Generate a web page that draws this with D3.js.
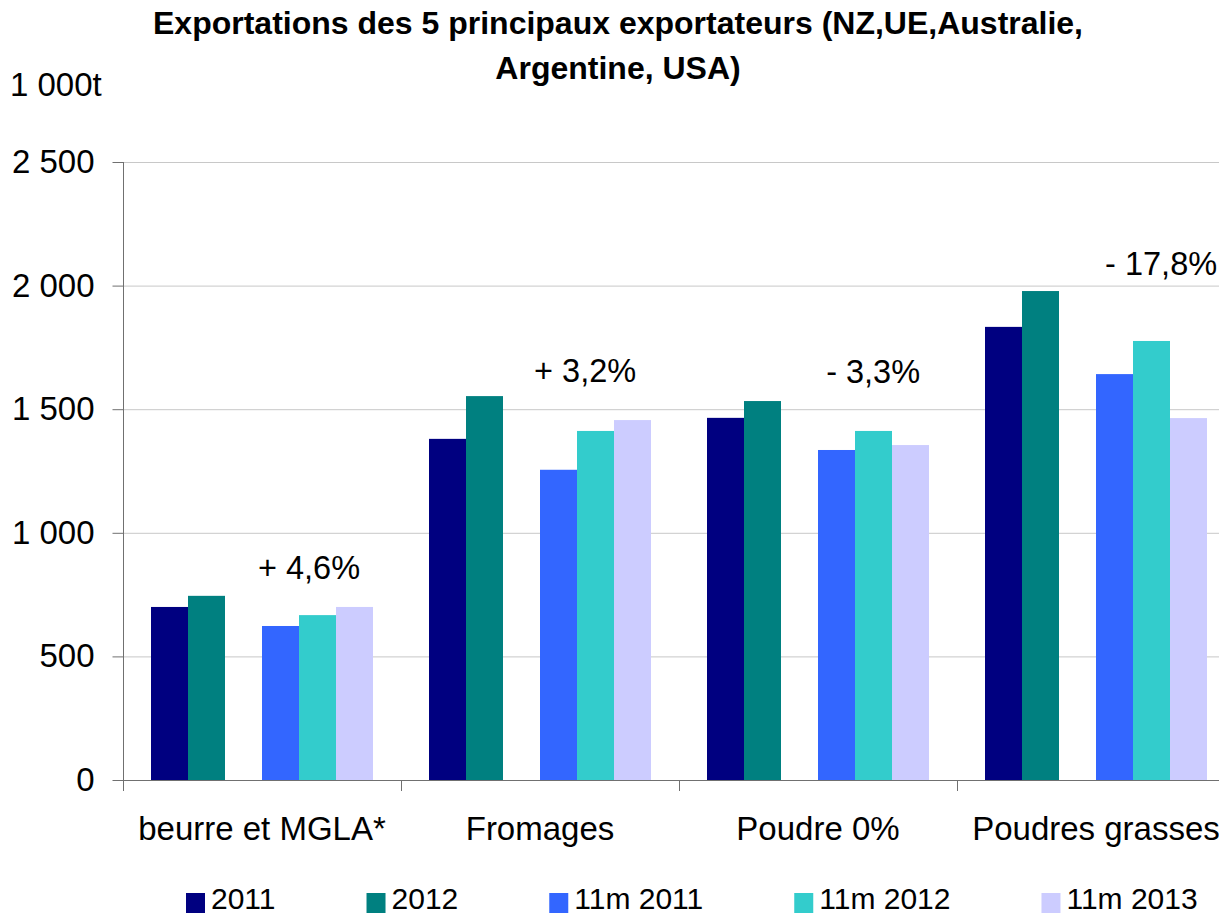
<!DOCTYPE html>
<html>
<head>
<meta charset="utf-8">
<script src="https://cdn.jsdelivr.net/npm/d3@7"></script>
<style>
  body { margin: 0; background: #fff; }
  svg { display: block; font-family: "Liberation Sans", Arial, sans-serif; }
</style>
</head>
<body>
<div id="chart"></div>
<script>
// categories and series (1 000 t)
var categories = ["beurre et MGLA*", "Fromages", "Poudre 0%", "Poudres grasses"];
var seriesNames = ["2011", "2012", "11m 2011", "11m 2012", "11m 2013"];
var seriesColors = ["#000080", "#008080", "#3366ff", "#33cccc", "#ccccff"];
var v2011 = [700, 1380, 1465, 1833];
var v2012 = [745, 1553, 1533, 1978];
var v11m2011 = [623, 1255, 1335, 1642];
var v11m2012 = [667, 1412, 1412, 1776];
var v11m2013 = [700, 1456, 1355, 1464];
var changeLabels = ["+ 4,6%", "+ 3,2%", "- 3,3%", "- 17,8%"];
// where the text boxes sit: value level and bar slot
var changeLabelAt = [815, 1610, 1605, 2043];
var changeLabelSlot = [4.27, 4.22, 4.49, 4.76];
var yTicks = [0, 500, 1000, 1500, 2000, 2500];

var allSeries = [v2011, v2012, v11m2011, v11m2012, v11m2013];
// slot of each series inside a category (slot 2 stays empty)
var seriesSlot = [0, 1, 3, 4, 5];

var width = 1219, height = 916;
var margin = { left: 123, top: 162, bottom: 136 };
var catWidth = 278;

var svg = d3.select("#chart").append("svg")
  .attr("width", width)
  .attr("height", height);

var x = d3.scaleBand()
  .domain(categories)
  .range([margin.left, margin.left + catWidth * categories.length]);

var xInner = d3.scaleBand()
  .domain(d3.range(6))
  .range([28, catWidth - 28]);

// continuous slot position, for the free text boxes
var xSlot = d3.scaleLinear()
  .domain([0, 6])
  .range([28, catWidth - 28]);

var y = d3.scaleLinear()
  .domain([0, 2500])
  .range([height - margin.bottom, margin.top]);

var fmt = function (d) {
  return d3.format(",")(d).replace(",", " ");
};

// gridlines
svg.append("g")
  .selectAll("line")
  .data(yTicks.slice(1))
  .enter().append("line")
  .attr("x1", margin.left)
  .attr("x2", width)
  .attr("y1", function (d) { return y(d) + 0.5; })
  .attr("y2", function (d) { return y(d) + 0.5; })
  .attr("stroke", "#c8c8c8")
  .attr("stroke-width", 1);

// bars
allSeries.forEach(function (vals, s) {
  svg.append("g")
    .selectAll("rect")
    .data(vals)
    .enter().append("rect")
    .attr("x", function (d, i) { return x(categories[i]) + xInner(seriesSlot[s]); })
    .attr("width", xInner.bandwidth())
    .attr("y", function (d) { return y(d); })
    .attr("height", function (d) { return y(0) - y(d); })
    .attr("fill", seriesColors[s]);
});

// y axis
var yAxis = svg.append("g")
  .attr("transform", "translate(" + (margin.left + 0.5) + ",0)")
  .call(d3.axisLeft(y).tickValues(yTicks).tickSize(11).tickPadding(18).tickFormat(fmt));
yAxis.select(".domain").remove();
yAxis.selectAll(".tick line").attr("stroke", "#707070");
yAxis.selectAll("text")
  .attr("font-size", 33)
  .attr("fill", "#000")
  .attr("font-family", "'Liberation Sans', Arial, sans-serif");
yAxis.append("line")
  .attr("y1", y(2500))
  .attr("y2", y(0) + 11)
  .attr("stroke", "#707070");

// x baseline and category ticks
svg.append("line")
  .attr("x1", margin.left)
  .attr("x2", width)
  .attr("y1", y(0) + 0.5)
  .attr("y2", y(0) + 0.5)
  .attr("stroke", "#707070");

svg.append("g")
  .selectAll("line")
  .data(categories.slice(1))
  .enter().append("line")
  .attr("x1", function (d) { return x(d) + 0.5; })
  .attr("x2", function (d) { return x(d) + 0.5; })
  .attr("y1", y(0))
  .attr("y2", y(0) + 11)
  .attr("stroke", "#707070");

svg.append("g")
  .selectAll("text")
  .data(categories)
  .enter().append("text")
  .attr("x", function (d) { return x(d) + x.bandwidth() / 2; })
  .attr("y", 840)
  .attr("text-anchor", "middle")
  .attr("font-size", 33)
  .text(function (d) { return d; });

// change annotations
svg.append("g")
  .selectAll("text")
  .data(changeLabels)
  .enter().append("text")
  .attr("x", function (d, i) { return x(categories[i]) + xSlot(changeLabelSlot[i]); })
  .attr("y", function (d, i) { return y(changeLabelAt[i]); })
  .attr("text-anchor", "middle")
  .attr("font-size", 32.5)
  .text(function (d) { return d; });

// title
var title = svg.append("text")
  .attr("text-anchor", "middle")
  .attr("font-size", 32)
  .attr("font-weight", "bold");
title.append("tspan").attr("x", 618).attr("y", 34)
  .text("Exportations des 5 principaux exportateurs (NZ,UE,Australie,");
title.append("tspan").attr("x", 618).attr("y", 79)
  .text("Argentine, USA)");

svg.append("text")
  .attr("x", 10)
  .attr("y", 96)
  .attr("font-size", 33)
  .text("1 000t");

// legend
var legend = svg.append("g");
var lx = 186;
seriesNames.forEach(function (name, i) {
  var item = legend.append("g").attr("transform", "translate(" + lx + ",0)");
  item.append("rect")
    .attr("x", 0)
    .attr("y", 893)
    .attr("width", 19)
    .attr("height", 20)
    .attr("fill", seriesColors[i]);
  var t = item.append("text")
    .attr("x", 25)
    .attr("y", 909)
    .attr("font-size", 30)
    .text(name);
  lx += 25 + t.node().getComputedTextLength() + 91;
});
</script>
</body>
</html>
